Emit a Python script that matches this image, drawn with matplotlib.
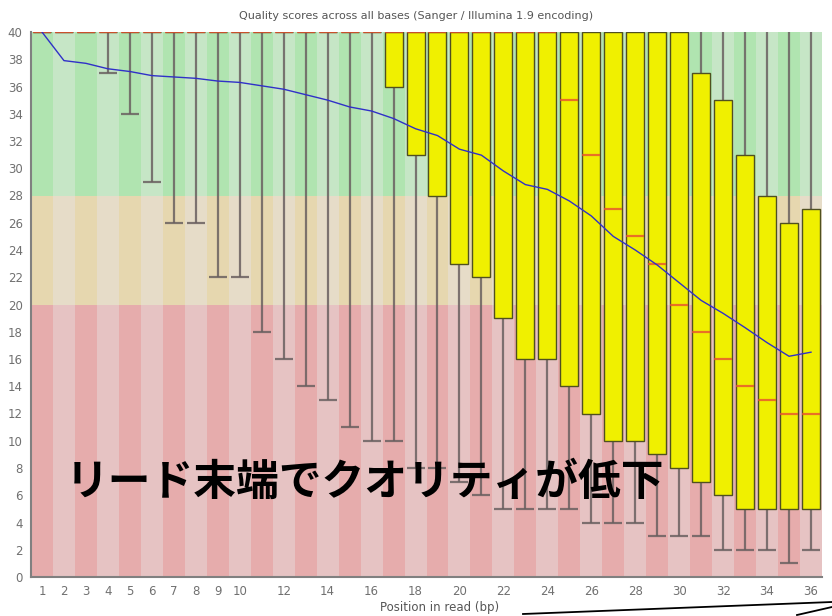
import numpy as np
import matplotlib.pyplot as plt
from matplotlib.lines import Line2D

plt.rcParams['font.family'] = ['DejaVu Sans']

positions = np.arange(1, 37)
q1 = [40]*16 + [36, 31, 28, 23, 22, 19, 16, 16, 14, 12, 10, 10, 9, 8, 7, 6, 5, 5, 5, 5]
q3 = [40]*30 + [37, 35, 31, 28, 26, 27]
median = [40]*24 + [35, 31, 27, 25, 23, 20, 18, 16, 14, 13, 12, 12]
low_whisker = [40, 40, 40, 37, 34, 29, 26, 26, 22, 22, 18, 16, 14, 13, 11, 10,
               10, 8, 8, 7, 6, 5, 5, 5, 5, 4, 4, 4, 3, 3, 3, 2, 2, 2, 1, 2]
high_whisker = [40]*36
mean = [40.0, 37.9, 37.7, 37.3, 37.1, 36.8, 36.7, 36.6, 36.4, 36.3, 36.05, 35.8,
        35.4, 35.0, 34.5, 34.2, 33.65, 32.9, 32.4, 31.4, 30.96, 29.8, 28.8, 28.45,
        27.6, 26.5, 25.0, 24.0, 22.9, 21.6, 20.3, 19.35, 18.3, 17.2, 16.2, 16.5]
xtick_labels = [str(i) if (i <= 10 or i % 2 == 0) else '' for i in positions]

zones = [(0, 20, '#e6acac', '#e6c3c3'),
         (20, 28, '#e6d7af', '#e6dcc8'),
         (28, 40, '#b0e4b0', '#c6e6c6')]

fig = plt.figure(figsize=(8.32, 6.16), dpi=100)
ax = fig.add_axes([31/832, 39/616, 791/832, 545/616])

for lo, hi, dark, light in zones:
    cols = [dark if p % 2 == 1 else light for p in positions]
    ax.bar(positions, hi - lo, bottom=lo, width=1.0, color=cols, linewidth=0, zorder=0)

w = 0.82
ax.vlines(positions, low_whisker, high_whisker, color='#6a6060', lw=1.6, alpha=0.85, zorder=1)
ax.hlines(low_whisker, positions - w/2, positions + w/2, color='#6a6060', lw=1.6, alpha=0.85, zorder=1)
heights = np.array(q3) - np.array(q1)
ax.bar(positions, heights, bottom=q1, width=w, color='#f0f000',
       edgecolor='#505020', linewidth=1.0, zorder=2)
ax.hlines(median, positions - w/2, positions + w/2, color='#e85030', lw=1.6, alpha=0.8, zorder=3)
ax.plot(positions, mean, color='#3030c8', lw=1.0, zorder=4)

ax.set_xlim(0.5, 36.5)
ax.set_ylim(0, 40)
ax.set_yticks(range(0, 41, 2))
ax.set_xticks(positions)
ax.set_xticklabels(xtick_labels)
ax.tick_params(length=0, labelsize=8.5, labelcolor='#707070', pad=6)
for s in ['top', 'right']:
    ax.spines[s].set_visible(False)
for s in ['left', 'bottom']:
    ax.spines[s].set_color('#808080')
    ax.spines[s].set_linewidth(1.5)

fig.text(0.5, 1 - 16/616, 'Quality scores across all bases (Sanger / Illumina 1.9 encoding)',
         ha='center', va='center', fontsize=8, color='#555555')
fig.text(440/832, 1 - 607/616, 'Position in read (bp)', ha='center', va='center',
         fontsize=8.5, color='#555555')

ax.text(365/832, 1 - 482/616, 'リード末端でクオリティが低下', transform=fig.transFigure,
        ha='center', va='center', fontsize=30.8, fontweight='bold', color='black',
        family=['Noto Sans CJK JP', 'DejaVu Sans'], zorder=5)

fig.add_artist(Line2D([523/832, 1.0], [1 - 614/616, 1 - 602/616], color='black', lw=1.3))
fig.add_artist(Line2D([797/832, 1.0], [1 - 615/616, 1 - 607/616], color='black', lw=1.3))

fig.savefig('out.png', dpi=100)
